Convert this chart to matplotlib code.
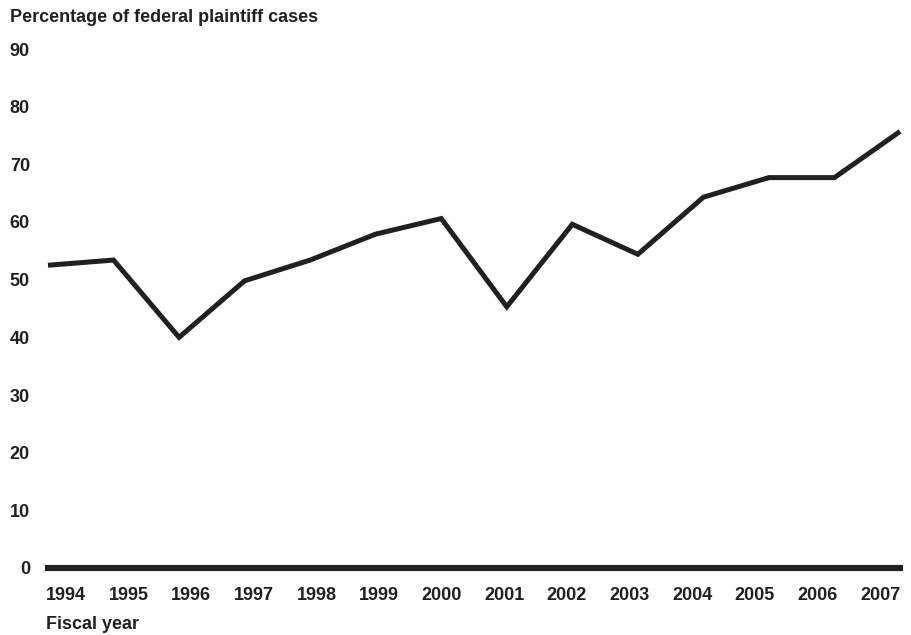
import matplotlib
matplotlib.use('Agg')
import matplotlib.pyplot as plt
import numpy as np

plt.rcParams['font.family'] = ['Liberation Sans', 'DejaVu Sans']
plt.rcParams['font.weight'] = 'bold'

# data
years = [1994, 1995, 1996, 1997, 1998, 1999, 2000,
         2001, 2002, 2003, 2004, 2005, 2006, 2007]
pct_plaintiff = [52.5, 53.4, 40.0, 49.8, 53.4, 57.9, 60.6,
                 45.3, 59.6, 54.4, 64.3, 67.7, 67.7, 75.7]
y_ticks = [0, 10, 20, 30, 40, 50, 60, 70, 80, 90]
year_labels = [str(y) for y in years]

ink = '#231f20'
W, H = 912, 635

fig = plt.figure(figsize=(W / 100, H / 100), dpi=100)
# axes box in pixels: x 48..900, y (from top) 49..568
ax = fig.add_axes([48 / W, (H - 568) / H, (900 - 48) / W, (568 - 49) / H])

ax.plot(years, pct_plaintiff, color=ink, linewidth=3.6,
        solid_joinstyle='miter', solid_capstyle='butt', clip_on=False)
ax.axhline(0, color=ink, linewidth=4.4, solid_capstyle='projecting', clip_on=False)

ax.set_xlim(years[0], years[-1])
ax.set_ylim(0, 90)
ax.set_yticks(y_ticks)
ax.set_yticklabels([str(v) for v in y_ticks])
ax.tick_params(axis='y', length=0, pad=13, labelsize=13, labelcolor=ink)
ax.set_xticks([])
for s in ax.spines.values():
    s.set_visible(False)

# year labels are spread a bit differently from the data points
ax2 = ax.twiny()
ax2.xaxis.set_ticks_position('bottom')
ax2.set_xlim(-0.2875, 13.319)
ax2.set_xticks(np.arange(len(year_labels)))
ax2.set_xticklabels(year_labels)
ax2.tick_params(axis='x', length=0, pad=13.5, labelsize=13, labelcolor=ink)
for s in ax2.spines.values():
    s.set_visible(False)

fig.text(10 / W, 1 - 9 / H, 'Percentage of federal plaintiff cases',
         ha='left', va='top', fontsize=13, fontweight='bold', color=ink)
fig.text(46 / W, 1 - 616 / H, 'Fiscal year',
         ha='left', va='top', fontsize=13, fontweight='bold', color=ink)

fig.savefig('out.png', dpi=100)
